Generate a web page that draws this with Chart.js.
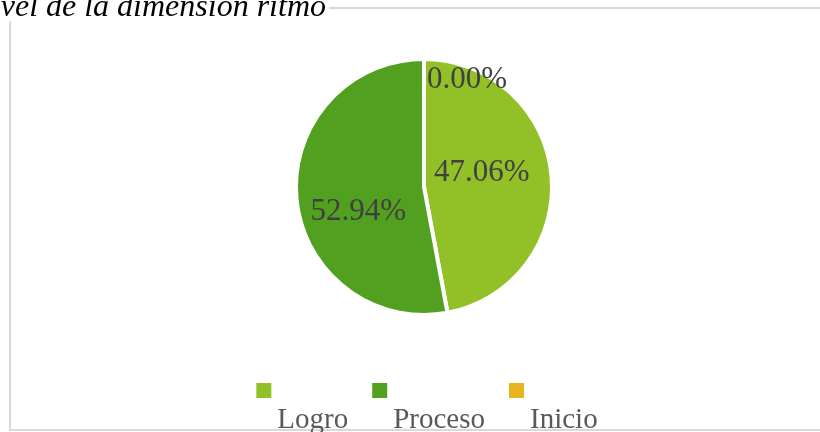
<!DOCTYPE html>
<html>
<head>
<meta charset="utf-8">
<script src="https://cdn.jsdelivr.net/npm/chart.js@4.4.1/dist/chart.umd.min.js"></script>
<style>
html,body{margin:0;padding:0;background:#fff;}
#wrap{width:820px;height:432px;position:relative;}
</style>
</head>
<body>
<div id="wrap"><canvas id="c" width="820" height="432"></canvas></div>
<script>
const titleText = "Nivel de la dimensión ritmo";
const categories = ["Logro", "Proceso", "Inicio"];
const values = [47.06, 52.94, 0.00];
const valueLabels = ["47.06%", "52.94%", "0.00%"];
const colors = ["#92C027", "#52A020", "#E8B41E"];

// label nudges from each slice's centre point (px)
const labelNudge = [[-6, -8], [-2, 19], [43, -43]];

const framePlugin = {
  id: 'frame',
  beforeDraw(chart) {
    const ctx = chart.ctx;
    ctx.save();
    ctx.fillStyle = '#fff';
    ctx.fillRect(0, 0, chart.width, chart.height);
    ctx.strokeStyle = '#D9D9D9';
    ctx.lineWidth = 2;
    ctx.beginPath();
    ctx.moveTo(830, 8);
    ctx.lineTo(10, 8);
    ctx.lineTo(10, 430);
    ctx.lineTo(830, 430);
    ctx.stroke();
    // title
    ctx.font = 'italic 32px "Liberation Serif"';
    const tw = ctx.measureText(titleText).width;
    const tx = 326 - tw;
    ctx.fillStyle = '#fff';
    ctx.fillRect(0, 0, 329, 21);
    ctx.fillStyle = '#000';
    ctx.textBaseline = 'alphabetic';
    ctx.fillText(titleText, tx, 15.5);
    ctx.restore();
  }
};

const labelPlugin = {
  id: 'sliceLabels',
  afterDatasetsDraw(chart) {
    const ctx = chart.ctx;
    const meta = chart.getDatasetMeta(0);
    ctx.save();
    ctx.font = '31px "Liberation Serif"';
    ctx.fillStyle = '#404040';
    ctx.textAlign = 'center';
    ctx.textBaseline = 'middle';
    meta.data.forEach((arc, i) => {
      const p = arc.tooltipPosition();
      ctx.fillText(valueLabels[i], p.x + labelNudge[i][0], p.y + labelNudge[i][1]);
    });
    ctx.restore();
  }
};

const legendPlugin = {
  id: 'bottomLegend',
  afterDraw(chart) {
    const ctx = chart.ctx;
    const labels = chart.data.labels;
    const bg = chart.data.datasets[0].backgroundColor;
    ctx.save();
    ctx.font = '29px "Liberation Serif"';
    const box = 15, textOff = 21, gap = 24;
    const widths = labels.map(l => ctx.measureText(l).width);
    let total = 0;
    widths.forEach((w, i) => { total += textOff + w + (i < widths.length - 1 ? gap : 0); });
    let x = 427 - total / 2;
    labels.forEach((l, i) => {
      ctx.fillStyle = bg[i];
      ctx.fillRect(x, 383, box, box);
      ctx.fillStyle = '#595959';
      ctx.textBaseline = 'alphabetic';
      ctx.fillText(l, x + textOff, 428);
      x += textOff + widths[i] + gap;
    });
    ctx.restore();
  }
};

new Chart(document.getElementById('c'), {
  type: 'pie',
  data: {
    labels: categories,
    datasets: [{
      data: values,
      backgroundColor: colors,
      borderColor: '#ffffff',
      borderWidth: 4
    }]
  },
  options: {
    responsive: false,
    animation: false,
    layout: { padding: { top: 57, bottom: 115, left: 200, right: 172 } },
    plugins: {
      legend: { display: false },
      title: { display: false },
      tooltip: { enabled: false }
    }
  },
  plugins: [framePlugin, labelPlugin, legendPlugin]
});
</script>
</body>
</html>
